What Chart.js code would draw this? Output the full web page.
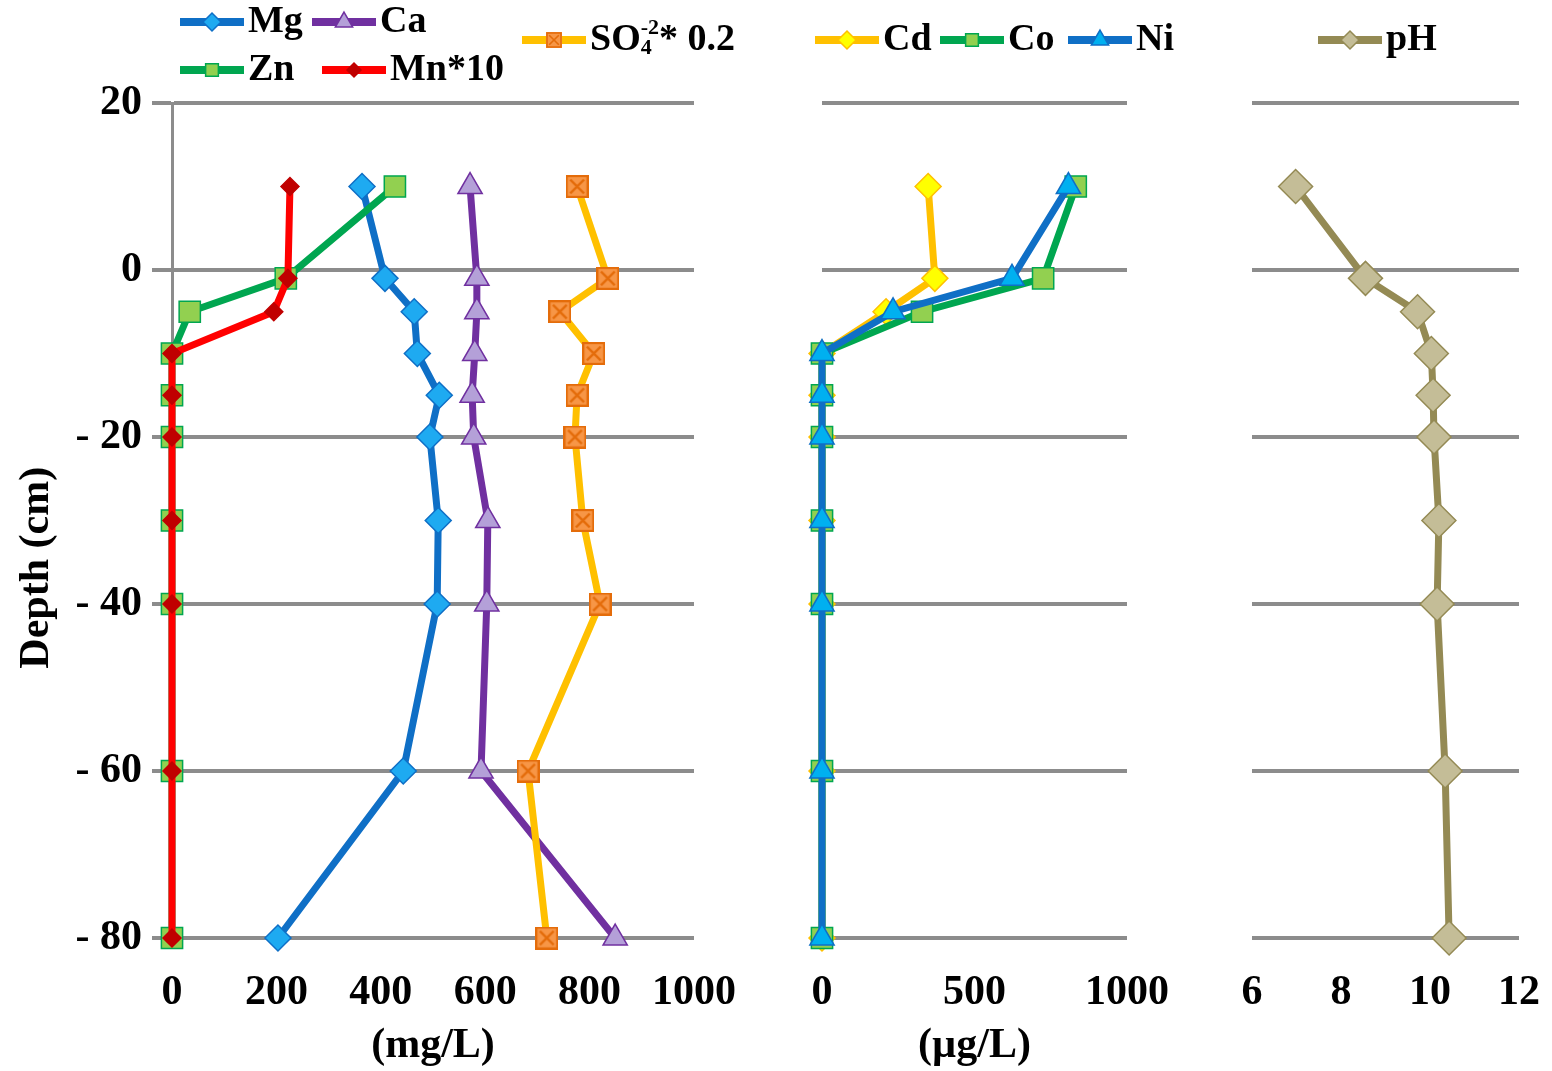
<!DOCTYPE html>
<html>
<head>
<meta charset="utf-8">
<script src="https://cdn.jsdelivr.net/npm/chart.js@4.4.1/dist/chart.umd.min.js"></script>
<style>
  html, body { margin: 0; padding: 0; background: #fff; }
  #wrap { position: relative; width: 1552px; height: 1071px; }
  canvas { position: absolute; top: 0; }
</style>
</head>
<body>
<div id="wrap">
  <canvas id="c1" width="760" height="1071" style="left:0px"></canvas>
  <canvas id="c2" width="440" height="1071" style="left:760px"></canvas>
  <canvas id="c3" width="352" height="1071" style="left:1200px"></canvas>
</div>
<script>
// depth of each sample (cm)
const depths = [10, -1, -5, -10, -15, -20, -30, -40, -60, -80];
const depthTicks = [20, 0, -20, -40, -60, -80];

// panel 1 (mg/L)
const mg  = [364, 408, 464, 470, 512, 494, 510, 508, 443, 203];
const ca  = [571, 584, 584, 580, 575, 578, 605, 603, 592, 849];
const so4 = [776, 835, 743, 808, 776, 772, 787, 820, 682, 718];
const zn  = [427, 218, 34, 0, 0, 0, 0, 0, 0, 0];
const mn  = [226, 222, 195, 0, 0, 0, 0, 0, 0, 0];

// panel 2 (ug/L)
const cd = [348, 370, 210, 0, 0, 0, 0, 0, 0, 0];
const co = [832, 725, 328, 0, 0, 0, 0, 0, 0, 0];
const ni = [808, 623, 233, 0, 0, 0, 0, 0, 0, 0];

// panel 3
const ph = [6.98, 8.55, 9.72, 10.03, 10.07, 10.09, 10.2, 10.16, 10.34, 10.43];

const FONT = 'Liberation Serif, "Times New Roman", serif';
const GRID = '#8c8c8c';
Chart.defaults.font.family = FONT;
Chart.defaults.font.weight = 'bold';
Chart.defaults.color = '#000';

const pts = vals => vals.map((v, i) => ({x: v, y: depths[i]}));

// orange square with a cross, like the SO4 marker
function crossSquare(size) {
  const c = document.createElement('canvas');
  c.width = size; c.height = size;
  const g = c.getContext('2d');
  g.fillStyle = '#F79646';
  g.fillRect(0, 0, size, size);
  g.strokeStyle = '#E46C0A';
  g.lineWidth = Math.max(1.5, size / 10);
  g.strokeRect(1, 1, size - 2, size - 2);
  g.beginPath();
  g.moveTo(size * 0.2, size * 0.2); g.lineTo(size * 0.8, size * 0.8);
  g.moveTo(size * 0.8, size * 0.2); g.lineTo(size * 0.2, size * 0.8);
  g.stroke();
  return c;
}

function series(label, vals, line, fill, border, style, radius, order, extra) {
  return Object.assign({
    label: label,
    data: pts(vals),
    showLine: true,
    clip: false,
    borderColor: line,
    borderWidth: 7,
    pointBackgroundColor: fill,
    pointBorderColor: border,
    pointBorderWidth: 1.5,
    pointStyle: style,
    pointRadius: radius,
    pointHoverRadius: radius,
    order: order,
    tension: 0
  }, extra || {});
}

// legend drawn as Excel does: short line with the marker in the middle
const lineLegend = {
  id: 'lineLegend',
  afterDraw(chart, args, opts) {
    const ctx = chart.ctx;
    ctx.save();
    opts.items.forEach(it => {
      const ds = chart.data.datasets[it.ds];
      ctx.strokeStyle = ds.borderColor;
      ctx.lineWidth = 8;
      ctx.beginPath();
      ctx.moveTo(it.x, it.y);
      ctx.lineTo(it.x + 64, it.y);
      ctx.stroke();
      const mx = it.x + 32;
      if (ds.pointStyle instanceof HTMLCanvasElement) {
        ctx.drawImage(ds.legendImage, mx - 8, it.y - 8, 16, 16);
      } else {
        ctx.fillStyle = ds.pointBackgroundColor;
        ctx.strokeStyle = ds.pointBorderColor;
        ctx.lineWidth = 1.5;
        Chart.helpers.drawPoint(ctx, {pointStyle: ds.pointStyle, radius: it.r || 9, rotation: 0, borderWidth: 1.5}, mx, it.y);
      }
      ctx.fillStyle = '#000';
      ctx.textBaseline = 'middle';
      ctx.textAlign = 'left';
      let tx = it.x + 68;
      const big = 'bold 38px ' + FONT;
      const small = 'bold 22px ' + FONT;
      if (it.parts) {
        // SO4 with subscript 4 and superscript -2
        ctx.font = big;
        ctx.fillText('SO', tx, it.y);
        tx += ctx.measureText('SO').width;
        ctx.font = small;
        ctx.fillText('4', tx, it.y + 8);
        ctx.fillText('-2', tx, it.y - 12);
        tx += ctx.measureText('-2').width;
        ctx.font = big;
        ctx.fillText('* 0.2', tx, it.y);
      } else {
        ctx.font = big;
        ctx.fillText(it.text, tx, it.y);
      }
    });
    ctx.restore();
  }
};

function depthAxis(first, width) {
  return {
    type: 'linear',
    min: -80, max: 20,
    afterBuildTicks: s => { s.ticks = depthTicks.map(v => ({value: v})); },
    afterFit: s => { s.width = width; },
    grid: {
      color: GRID, lineWidth: 4,
      drawTicks: first, tickLength: 20
    },
    border: {display: first, color: GRID, width: 3},
    ticks: {
      display: first,
      padding: 10,
      font: {size: 42, weight: 'bold'},
      callback: v => v < 0 ? '- ' + (-v) : String(v)
    },
    title: {
      display: first,
      text: 'Depth (cm)         ',
      font: {size: 42, weight: 'bold'},
      padding: {top: 12}
    }
  };
}

function valueAxis(min, max, step, title) {
  return {
    type: 'linear',
    position: 'bottom',
    min: min, max: max,
    afterFit: s => {
      s.height = 133;
      // edge labels may hang outside the plot area, as in the original
      s.paddingLeft = 0;
      s.paddingRight = 0;
    },
    grid: {display: false, drawTicks: false},
    border: {display: false},
    ticks: {
      stepSize: step,
      padding: 30,
      font: {size: 42, weight: 'bold'},
      callback: v => String(v)
    },
    title: {
      display: !!title,
      text: title,
      font: {size: 42, weight: 'bold'},
      padding: {bottom: 0}
    }
  };
}

function baseOptions(padRight, xAxis, yAxis, legendItems) {
  return {
    responsive: false,
    animation: false,
    layout: {padding: {top: 103, right: padRight, left: 0, bottom: 0}},
    plugins: {
      legend: {display: false},
      tooltip: {enabled: false},
      lineLegend: {items: legendItems}
    },
    scales: {x: xAxis, y: yAxis}
  };
}

const so4Marker = crossSquare(23);

new Chart(document.getElementById('c1'), {
  type: 'scatter',
  data: {
    datasets: [
      series('Mg', mg, '#0F6FC6', '#1EAAF1', '#0F6FC6', 'rectRot', 13, 5),
      series('Ca', ca, '#7030A0', '#B4A0D8', '#7030A0', 'triangle', 14, 4),
      series('SO4-2* 0.2', so4, '#FFC000', '#F79646', '#E46C0A', so4Marker, 12, 3, {legendImage: crossSquare(16)}),
      series('Zn', zn, '#00A650', '#92D050', '#00A650', 'rect', 15, 2),
      series('Mn*10', mn, '#FF0000', '#C00000', '#C00000', 'rectRot', 9, 1)
    ]
  },
  options: baseOptions(66, valueAxis(0, 1000, 200, '(mg/L)'), depthAxis(true, 172), [
    {ds: 0, text: 'Mg', x: 180, y: 22},
    {ds: 1, text: 'Ca', x: 312, y: 22, r: 10},
    {ds: 2, parts: true, x: 522, y: 40},
    {ds: 3, text: 'Zn', x: 180, y: 70},
    {ds: 4, text: 'Mn*10', x: 322, y: 70, r: 7}
  ]),
  plugins: [lineLegend]
});

new Chart(document.getElementById('c2'), {
  type: 'scatter',
  data: {
    datasets: [
      series('Cd', cd, '#FFC000', '#FFFF00', '#FFC000', 'rectRot', 13, 3),
      series('Co', co, '#00A650', '#92D050', '#00A650', 'rect', 15, 2),
      series('Ni', ni, '#0F6FC6', '#00B0F0', '#0F6FC6', 'triangle', 14, 1)
    ]
  },
  options: baseOptions(73, valueAxis(0, 1000, 500, '(\u00b5g/L)'), depthAxis(false, 62), [
    {ds: 0, text: 'Cd', x: 55, y: 40},
    {ds: 1, text: 'Co', x: 180, y: 40},
    {ds: 2, text: 'Ni', x: 308, y: 40, r: 10}
  ]),
  plugins: [lineLegend]
});

new Chart(document.getElementById('c3'), {
  type: 'scatter',
  data: {
    datasets: [
      series('pH', ph, '#948A54', '#C4BD97', '#948A54', 'rectRot', 17, 1)
    ]
  },
  options: baseOptions(33, valueAxis(6, 12, 2, ''), depthAxis(false, 52), [
    {ds: 0, text: 'pH', x: 118, y: 40}
  ]),
  plugins: [lineLegend]
});
</script>
</body>
</html>
